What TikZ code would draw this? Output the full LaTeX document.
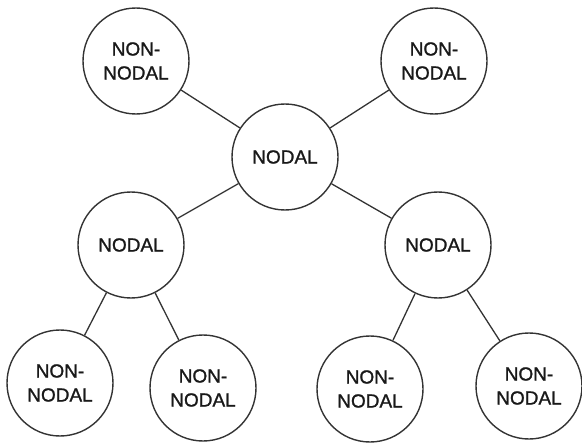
\documentclass[tikz,border=0pt]{standalone}
\usepackage{fontspec}
\setmainfont{Liberation Sans}
\newfontfamily\labelfont[FakeBold=1.2]{Liberation Sans}
\begin{document}
\begin{tikzpicture}[x=1pt,y=-1pt,
  vertex/.style={circle, draw=black!80, line width=1.4pt, minimum size=106pt,
    inner sep=0pt, align=center, font=\labelfont\fontsize{19}{24}\selectfont, text=black!90},
  link/.style={draw=black!80, line width=1.3pt}]
  \useasboundingbox (0,0) rectangle (582,444);
  % upper level
  \node[vertex] (tl) at (136,61) {NON-\\NODAL};
  \node[vertex] (tr) at (434,61) {NON-\\NODAL};
  \node[vertex] (c)  at (285,157) {NODAL};
  % middle level
  \node[vertex] (l)  at (131,245) {NODAL};
  \node[vertex] (r)  at (438,245) {NODAL};
  % leaves
  \node[vertex] (l1) at (60,383)  {NON-\\NODAL};
  \node[vertex] (l2) at (203,388) {NON-\\NODAL};
  \node[vertex] (r1) at (370,389) {NON-\\NODAL};
  \node[vertex] (r2) at (529,386) {NON-\\NODAL};
  % connectors
  \draw[link] (c) -- (tl);
  \draw[link] (c) -- (tr);
  \draw[link] (c) -- (l);
  \draw[link] (c) -- (r);
  \draw[link] (l) -- (l1);
  \draw[link] (l) -- (l2);
  \draw[link] (r) -- (r1);
  \draw[link] (r) -- (r2);
\end{tikzpicture}
\end{document}
